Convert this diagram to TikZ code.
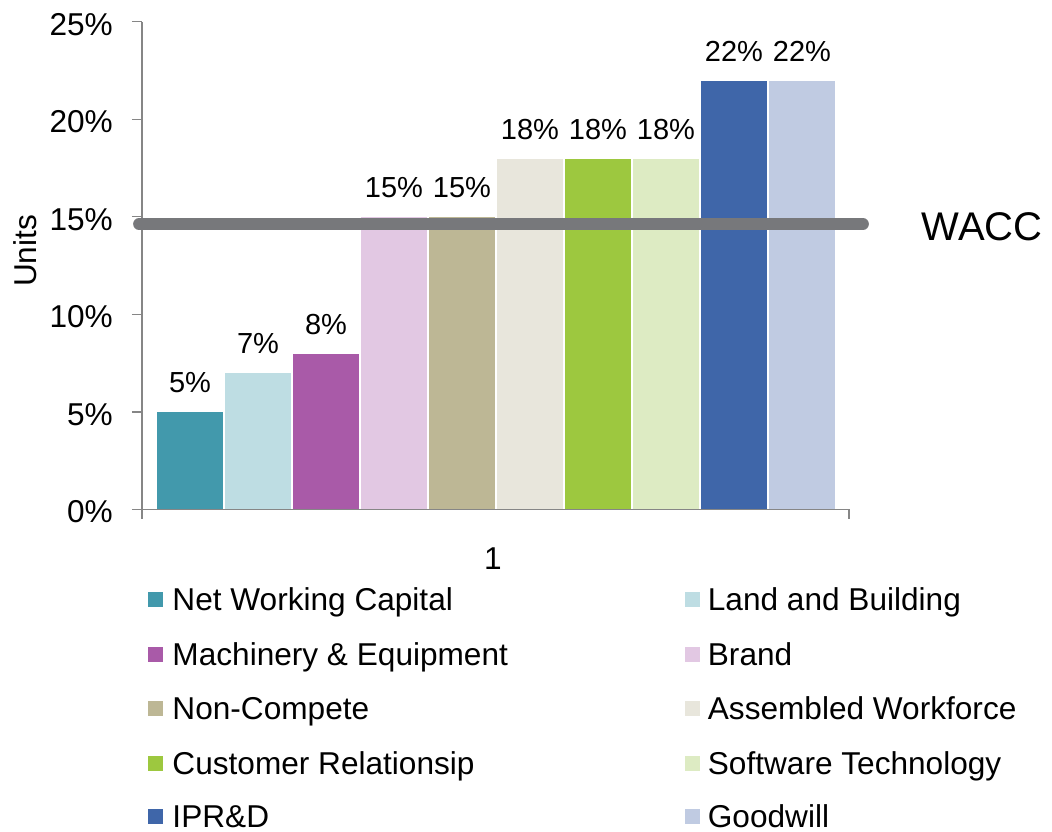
\documentclass[tikz,border=0pt]{standalone}
\usepackage{fontspec}
\setmainfont{Liberation Sans}
\usetikzlibrary{calc}

\definecolor{nwc}{HTML}{4299AC}
\definecolor{land}{HTML}{BEDDE3}
\definecolor{mach}{HTML}{A95AA8}
\definecolor{brand}{HTML}{E2C8E3}
\definecolor{noncomp}{HTML}{BDB795}
\definecolor{workf}{HTML}{E8E6DC}
\definecolor{custrel}{HTML}{9DC83F}
\definecolor{softw}{HTML}{DDEBC3}
\definecolor{iprd}{HTML}{3F66A9}
\definecolor{goodw}{HTML}{C0CBE2}
\definecolor{waccgray}{HTML}{77787B}
\definecolor{axisgray}{HTML}{868686}

\tikzset{
	barbox/.style={draw=white, line width=1.2pt},
	axisline/.style={draw=axisgray, line width=1.3pt},
	txt/.style={inner sep=0pt, font=\fontsize{31.6}{38}\selectfont},
	val/.style={inner sep=0pt, font=\fontsize{29}{35}\selectfont, anchor=base, yshift=19pt},
	ytick/.style={txt, anchor=base east, yshift=-13.5pt},
	legbox/.style={minimum size=15pt, inner sep=0pt},
	legtext/.style={txt, anchor=base west, yshift=-11.3pt}
}

\begin{document}
\begin{tikzpicture}[x=1pt, y=19.512pt]
	\useasboundingbox (-142,-16.48) rectangle (910,26.11);

	%bars
	\fill[nwc, barbox] (14,0) rectangle (82,5);
	\fill[land, barbox] (82,0) rectangle (150,7);
	\fill[mach, barbox] (150,0) rectangle (218,8);
	\fill[brand, barbox] (218,0) rectangle (286,15);
	\fill[noncomp, barbox] (286,0) rectangle (354,15);
	\fill[workf, barbox] (354,0) rectangle (422,18);
	\fill[custrel, barbox] (422,0) rectangle (490,18);
	\fill[softw, barbox] (490,0) rectangle (558,18);
	\fill[iprd, barbox] (558,0) rectangle (626,22);
	\fill[goodw, barbox] (626,0) rectangle (694,22);

	%values
	\node[val] (v1) at (48,5) {5\%};
	\node[val] (v2) at (116,7) {7\%};
	\node[val] (v3) at (184,8) {8\%};
	\node[val] (v4) at (252,15) {15\%};
	\node[val] (v5) at (320,15) {15\%};
	\node[val] (v6) at (388,18) {18\%};
	\node[val] (v7) at (456,18) {18\%};
	\node[val] (v8) at (524,18) {18\%};
	\node[val] (v9) at (592,22) {22\%};
	\node[val] (v10) at (660,22) {22\%};

	%axis
	\draw[axisline] (0,0)--(0,25);
	\draw[axisline] (0,0)--(707,0);
	\draw[axisline] (0,0)--(0,-0.49); \draw[axisline] (707,0)--(707,-0.49);
	\draw[axisline] (-10,0)--(0,0); \node[ytick] (t0) at (-29,0) {0\%};
	\draw[axisline] (-10,5)--(0,5); \node[ytick] (t5) at (-29,5) {5\%};
	\draw[axisline] (-10,10)--(0,10); \node[ytick] (t10) at (-29,10) {10\%};
	\draw[axisline] (-10,15)--(0,15); \node[ytick] (t15) at (-29,15) {15\%};
	\draw[axisline] (-10,20)--(0,20); \node[ytick] (t20) at (-29,20) {20\%};
	\draw[axisline] (-10,25)--(0,25); \node[ytick] (t25) at (-29,25) {25\%};
	\node[txt, rotate=90] (units) at (-117,13.25) {Units};
	\node[txt, anchor=base] (cat) at (351,-3.065) {1};

	%wacc
	\coordinate (wl) at (-3,14.63);
	\coordinate (wr) at (721,14.63);
	\draw[waccgray, line width=11.7pt, line cap=round] (wl)--(wr);
	\node[inner sep=0pt, anchor=base west, font=\fontsize{40}{46}\selectfont] (wacc) at (779.7,13.76) {WACC};

	%legend
	\node[legbox, fill=nwc] (l1) at (13.8,-4.61) {}; \node[legtext] (n1) at (30.3,-4.61) {Net Working Capital};
	\node[legbox, fill=land] (l2) at (550.5,-4.61) {}; \node[legtext] (n2) at (565.7,-4.61) {Land and Building};
	\node[legbox, fill=mach] (l3) at (13.8,-7.41) {}; \node[legtext] (n3) at (30.3,-7.41) {Machinery \& Equipment};
	\node[legbox, fill=brand] (l4) at (550.5,-7.41) {}; \node[legtext] (n4) at (565.7,-7.41) {Brand};
	\node[legbox, fill=noncomp] (l5) at (13.8,-10.20) {}; \node[legtext] (n5) at (30.3,-10.20) {Non-Compete};
	\node[legbox, fill=workf] (l6) at (550.5,-10.20) {}; \node[legtext] (n6) at (565.7,-10.20) {Assembled Workforce};
	\node[legbox, fill=custrel] (l7) at (13.8,-13.00) {}; \node[legtext] (n7) at (30.3,-13.00) {Customer Relationsip};
	\node[legbox, fill=softw] (l8) at (550.5,-13.00) {}; \node[legtext] (n8) at (565.7,-13.00) {Software Technology};
	\node[legbox, fill=iprd] (l9) at (13.8,-15.72) {}; \node[legtext] (n9) at (30.3,-15.72) {IPR\&D};
	\node[legbox, fill=goodw] (l10) at (550.5,-15.72) {}; \node[legtext] (n10) at (565.7,-15.72) {Goodwill};
\end{tikzpicture}
\end{document}
